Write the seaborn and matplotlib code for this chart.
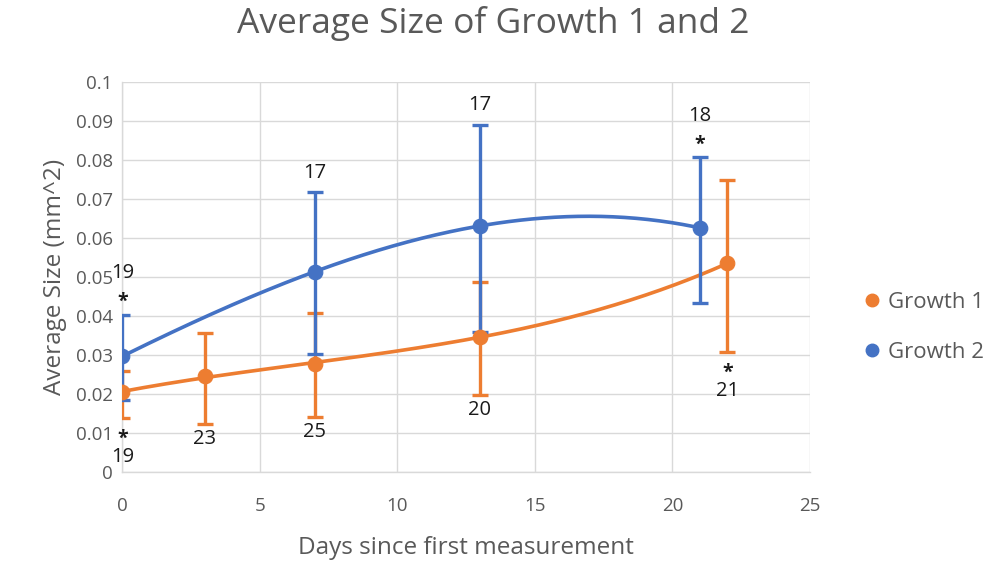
import numpy as np
import pandas as pd
import seaborn as sns
import matplotlib.pyplot as plt
from matplotlib.lines import Line2D
from matplotlib.ticker import FuncFormatter

# Growth 1
g1_days = [0, 3, 7, 13, 22]
g1_mean = [0.0205, 0.0246, 0.0277, 0.0347, 0.0535]
g1_low = [0.0138, 0.0123, 0.0142, 0.0197, 0.0307]
g1_high = [0.0260, 0.0356, 0.0408, 0.0487, 0.0749]
g1_n = ['19', '23', '25', '20', '21']
g1_star = [True, False, False, False, True]

# Growth 2
g2_days = [0, 7, 13, 21]
g2_mean = [0.0297, 0.0514, 0.0631, 0.0626]
g2_low = [0.0185, 0.0303, 0.0359, 0.0434]
g2_high = [0.0403, 0.0718, 0.0891, 0.0807]
g2_n = ['19', '17', '17', '18']
g2_star = [True, False, False, True]

orange = '#ED7D31'
blue = '#4472C4'
grey = '#595959'
ink = '#1a1a1a'

sns.set_theme(style='whitegrid')
plt.rcParams['font.family'] = ['Open Sans', 'DejaVu Sans']

fig = plt.figure(figsize=(9.99, 5.64), dpi=100)
ax = fig.add_axes([0.1226, 0.1631, 0.6882, 0.6915])

series = [
    ('Growth 1', g1_days, g1_mean, g1_low, g1_high, g1_n, g1_star, orange, -1),
    ('Growth 2', g2_days, g2_mean, g2_low, g2_high, g2_n, g2_star, blue, 1),
]

for name, days, mean, low, high, ns, stars, col, side in series:
    days = np.array(days, dtype=float)
    mean = np.array(mean)
    low = np.array(low)
    high = np.array(high)
    # polynomial (order 3) trendline like the excel one
    coef = np.polyfit(days, mean, 3)
    xs = np.linspace(days.min(), days.max(), 200)
    trend = pd.DataFrame({'x': xs, 'y': np.polyval(coef, xs)})
    sns.lineplot(data=trend, x='x', y='y', color=col, lw=2.6, ax=ax, legend=False, zorder=3)
    ax.errorbar(days, mean, yerr=[mean - low, high - mean], fmt='none', ecolor=col,
                elinewidth=2.4, capsize=5.5, capthick=2.4, zorder=4)
    df = pd.DataFrame({'x': days, 'y': mean})
    sns.scatterplot(data=df, x='x', y='y', color=col, s=110, edgecolor=col, ax=ax,
                    legend=False, zorder=5)
    for x, lo, hi, n, st in zip(days, low, high, ns, stars):
        anchor = hi if side > 0 else lo
        if st:
            ax.annotate('*', (x, anchor), xytext=(0, side * 12 - 3), textcoords='offset points',
                        ha='center', va='center', fontsize=14, fontweight='bold', color=ink)
            off = 30 if side > 0 else 28
        else:
            off = 14 if side > 0 else 11
        ax.annotate(n, (x, anchor), xytext=(0, side * off), textcoords='offset points',
                    ha='center', va='center', fontsize=14.5, color=ink)

ax.set_xlim(0, 25)
ax.set_ylim(0, 0.1)
ax.set_xticks(np.arange(0, 26, 5))
ax.set_yticks(np.arange(0, 0.101, 0.01))
ax.yaxis.set_major_formatter(FuncFormatter(lambda v, p: '%g' % round(v, 2)))
ax.grid(True, color='#D9D9D9', lw=1)
for s in ['top', 'right']:
    ax.spines[s].set_visible(False)
for s in ['left', 'bottom']:
    ax.spines[s].set_color('#D9D9D9')
    ax.spines[s].set_linewidth(1)
ax.tick_params(axis='both', length=0, labelsize=13.5, labelcolor=grey)
ax.tick_params(axis='x', pad=18)
ax.tick_params(axis='y', pad=7)

ax.set_xlabel('Days since first measurement', fontsize=17.5, color=grey, labelpad=15)
ax.set_ylabel('Average Size (mm^2)', fontsize=17.5, color=grey, labelpad=6)
fig.text(0.494, 0.958, 'Average Size of Growth 1 and 2', fontsize=25.5, color=grey,
         ha='center', va='center')

handles = [Line2D([], [], marker='o', ls='none', color=orange, markersize=9),
           Line2D([], [], marker='o', ls='none', color=blue, markersize=9)]
fig.legend(handles, ['Growth 1', 'Growth 2'], loc='center left',
           bbox_to_anchor=(0.842, 0.42), frameon=False, fontsize=16,
           labelcolor=grey, labelspacing=1.3, handletextpad=0.2, handlelength=1.0)

fig.savefig('out.png', dpi=100)
